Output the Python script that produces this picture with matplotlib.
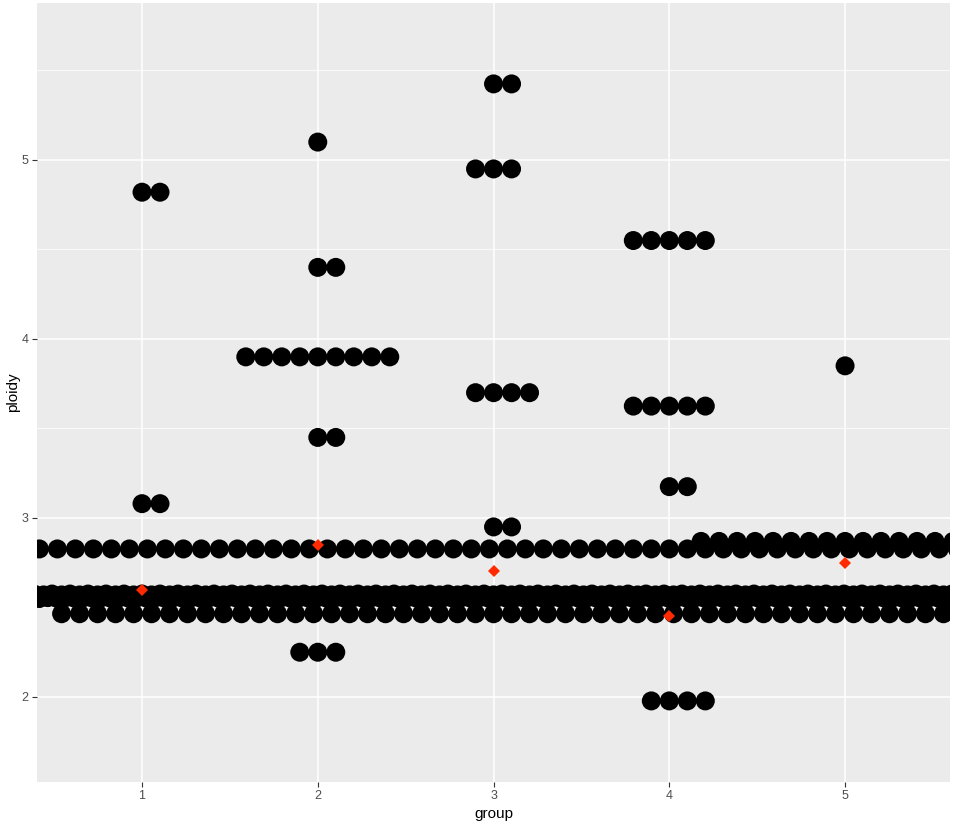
import numpy as np
import matplotlib
matplotlib.use('Agg')
import matplotlib.pyplot as plt

plt.rcParams['font.family'] = ['Liberation Sans', 'DejaVu Sans']

groups = [1, 2, 3, 4, 5]

# binned ploidy values and how many dots sit in each bin, per group
g1_vals = [4.82, 3.08, 2.575]
g1_cnt = [2, 2, 91]
g2_vals = [5.10, 4.40, 3.90, 3.45, 2.555, 2.25]
g2_cnt = [1, 2, 9, 2, 91, 3]
g3_vals = [5.425, 4.95, 3.70, 2.95, 2.57, 2.465]
g3_cnt = [2, 3, 4, 2, 91, 50]
g4_vals = [4.55, 3.625, 3.175, 2.827, 2.55, 1.978]
g4_cnt = [5, 5, 2, 71, 91, 4]
g5_vals = [3.85, 2.869, 2.565]
g5_cnt = [1, 17, 91]

means = [2.598, 2.849, 2.704, 2.453, 2.749]

all_vals = [g1_vals, g2_vals, g3_vals, g4_vals, g5_vals]
all_cnt = [g1_cnt, g2_cnt, g3_cnt, g4_cnt, g5_cnt]

fig = plt.figure(figsize=(9.54, 8.21), dpi=100)
ax = fig.add_axes([37/954, 1-782/821, 913/954, 779/821])
ax.set_facecolor('#EBEBEB')

dx = 0.1024  # dot spacing along x (data units)
for g, vals, cnt in zip(groups, all_vals, all_cnt):
    xs, ys = [], []
    for v, n in zip(vals, cnt):
        # stackdir = "centerwhole"
        off = np.arange(n) - (n - 1)//2
        xs += list(g + off*dx)
        ys += [v]*n
    ax.scatter(xs, ys, s=187, c='black', edgecolors='none', zorder=3)

ax.plot(groups, means, linestyle='none', marker='D', markersize=6,
        color='#ff2a00', markeredgewidth=0, zorder=4)

ax.set_xlim(0.4025, 5.597)
ax.set_ylim(1.525, 5.877)
ax.set_xticks(groups)
ax.set_yticks([2, 3, 4, 5])
ax.set_yticks([2.5, 3.5, 4.5, 5.5], minor=True)
ax.grid(which='major', color='white', linewidth=1.1, zorder=0)
ax.grid(which='minor', axis='y', color='white', linewidth=0.55, zorder=0)
ax.set_axisbelow(True)
for sp in ax.spines.values():
    sp.set_visible(False)
ax.tick_params(which='major', length=3.5, width=0.8, color='#333333',
               labelcolor='#4D4D4D', labelsize=9, pad=2.5)
ax.tick_params(which='minor', length=0)
ax.set_xlabel('group', fontsize=11, labelpad=3)
ax.set_ylabel('ploidy', fontsize=11, labelpad=1.5)

fig.savefig('out.png', dpi=100)
